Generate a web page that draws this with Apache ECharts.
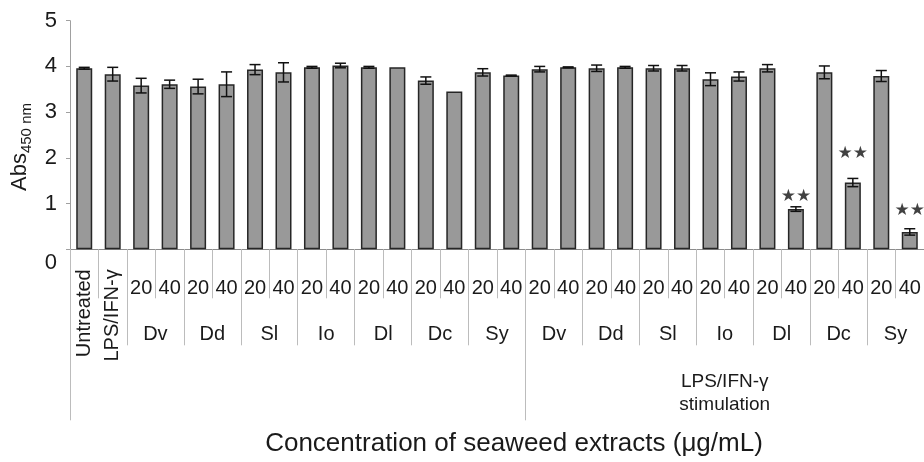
<!DOCTYPE html>
<html>
<head>
<meta charset="utf-8">
<script src="https://cdn.jsdelivr.net/npm/echarts@6/dist/echarts.min.js"></script>
<style>
  html, body { margin: 0; background: #fff; }
  #chart { width: 924px; height: 462px; }
</style>
</head>
<body>
<div id="chart"></div>
<script>
// one entry per bar
const categories = [
  'Untreated', 'LPS/IFN-γ',
  'Dv 20', 'Dv 40', 'Dd 20', 'Dd 40', 'Sl 20', 'Sl 40', 'Io 20', 'Io 40',
  'Dl 20', 'Dl 40', 'Dc 20', 'Dc 40', 'Sy 20', 'Sy 40',
  'LPS Dv 20', 'LPS Dv 40', 'LPS Dd 20', 'LPS Dd 40', 'LPS Sl 20', 'LPS Sl 40', 'LPS Io 20', 'LPS Io 40',
  'LPS Dl 20', 'LPS Dl 40', 'LPS Dc 20', 'LPS Dc 40', 'LPS Sy 20', 'LPS Sy 40',
];
const doseLabels = ['', '',
  '20', '40', '20', '40', '20', '40', '20', '40', '20', '40', '20', '40', '20', '40',
  '20', '40', '20', '40', '20', '40', '20', '40', '20', '40', '20', '40', '20', '40'];
const sideLabels = ['Untreated', 'LPS/IFN-γ'];
const means = [
  3.96, 3.83,
  3.58, 3.61, 3.56, 3.61, 3.93, 3.87, 3.98, 4.02, 3.98, 3.98, 3.69, 3.45, 3.87, 3.80,
  3.94, 3.98, 3.96, 3.98, 3.96, 3.96, 3.72, 3.78, 3.96, 0.88, 3.87, 1.46, 3.79, 0.38,
];
const errors = [
  0.02, 0.15,
  0.16, 0.09, 0.16, 0.27, 0.11, 0.21, 0.02, 0.05, 0.02, 0, 0.08, 0, 0.08, 0.01,
  0.06, 0.01, 0.07, 0.02, 0.06, 0.06, 0.14, 0.10, 0.08, 0.05, 0.14, 0.09, 0.12, 0.07,
];
// significance marks (index, height of the mark)
const sigIndex = [25, 27, 29];
const sigHeight = [1.15, 2.09, 0.85];

// groups of two bars
const groupNames = ['', 'Dv', 'Dd', 'Sl', 'Io', 'Dl', 'Dc', 'Sy', 'Dv', 'Dd', 'Sl', 'Io', 'Dl', 'Dc', 'Sy'];
const stimText = 'LPS/IFN-γ\nstimulation';
const stimGroup = 11;
const yTicks = [0, 1, 2, 3, 4, 5];

const FONT = '"Liberation Sans", Arial, sans-serif';
const TXT = '#1a1a1a';
const SEP = '#bcbcbc';

const myChart = echarts.init(document.getElementById('chart'));

const groupCats = groupNames.map((g, i) => i + ':' + g);

const option = {
  animation: false,
  grid: { left: 70, top: 20.7, width: 860, bottom: 212.7, containLabel: false },
  xAxis: [
    {
      type: 'category',
      data: categories,
      position: 'bottom',
      axisLine: { show: true, lineStyle: { color: '#8c8c8c', width: 1 } },
      axisTick: { show: true, length: 49, lineStyle: { color: SEP } },
      axisLabel: {
        interval: 0, margin: 29, fontSize: 20, color: TXT, fontFamily: FONT,
        formatter: (v, i) => doseLabels[i],
      },
      name: 'Concentration of seaweed extracts (μg/mL)',
      nameLocation: 'middle',
      nameGap: 182,
      nameTextStyle: { fontSize: 26, color: TXT, fontFamily: FONT, padding: [0, 0, 0, 34] },
    },
    {
      type: 'category',
      data: categories,
      position: 'bottom',
      axisLine: { show: false },
      axisTick: { show: false },
      axisLabel: {
        interval: 0, rotate: 90, margin: 20, fontSize: 20, color: TXT, fontFamily: FONT,
        formatter: (v, i) => sideLabels[i] || '',
      },
    },
    {
      type: 'category',
      data: groupCats,
      position: 'bottom',
      axisLine: { show: false },
      axisTick: { show: true, length: 96, interval: 0, lineStyle: { color: SEP } },
      axisLabel: {
        interval: 0, margin: 75, fontSize: 20, color: TXT, fontFamily: FONT,
        formatter: (v, i) => groupNames[i],
      },
    },
    {
      type: 'category',
      data: groupCats,
      position: 'bottom',
      axisLine: { show: false },
      axisTick: {
        show: true, length: 171, lineStyle: { color: SEP },
        interval: (i) => i === 0 || i === 8,
      },
      axisLabel: {
        interval: 0, margin: 121, fontSize: 19, lineHeight: 23, color: TXT, fontFamily: FONT,
        formatter: (v, i) => (i === stimGroup ? stimText : ''),
      },
    },
  ],
  yAxis: {
    type: 'value',
    min: yTicks[0],
    max: yTicks[yTicks.length - 1],
    interval: 1,
    name: '{a|Abs}{s|450 nm}',
    nameLocation: 'middle',
    nameRotate: 90,
    nameGap: 37,
    nameTextStyle: {
      color: TXT,
      fontFamily: FONT,
      padding: [0, 24, 0, 0],
      rich: {
        a: { fontSize: 22, fontFamily: FONT, color: TXT, lineHeight: 24, verticalAlign: 'bottom' },
        s: { fontSize: 15, fontFamily: FONT, color: TXT, lineHeight: 24, verticalAlign: 'bottom', padding: [0, 0, -3, 0] },
      },
    },
    axisLine: { show: true, lineStyle: { color: '#a0a0a0', width: 1 } },
    axisTick: { show: true, length: 4, lineStyle: { color: '#a0a0a0' } },
    splitLine: { show: false },
    axisLabel: {
      margin: 13, fontSize: 22, color: TXT, fontFamily: FONT,
      formatter: (v) => (v === 0 ? '{z|0}' : String(v)),
      rich: { z: { fontSize: 22, color: TXT, fontFamily: FONT, padding: [28, 0, 0, 0] } },
    },
  },
  series: [
    {
      type: 'bar',
      xAxisIndex: 0,
      data: means,
      barWidth: 16,
      itemStyle: { color: '#999999', borderColor: '#262626', borderWidth: 1.5 },
    },
    {
      type: 'custom',
      xAxisIndex: 0,
      data: means.map((m, i) => [i, m, errors[i]]),
      z: 5,
      renderItem: (params, api) => {
        const i = api.value(0);
        const m = api.value(1);
        const e = api.value(2);
        if (!e) return { type: 'group', children: [] };
        const top = api.coord([i, m + e]);
        const bot = api.coord([i, m - e]);
        const half = 5.5;
        const style = { stroke: '#111', lineWidth: 1.5 };
        return {
          type: 'group',
          children: [
            { type: 'line', shape: { x1: top[0], y1: top[1], x2: bot[0], y2: bot[1] }, style },
            { type: 'line', shape: { x1: top[0] - half, y1: top[1], x2: top[0] + half, y2: top[1] }, style },
            { type: 'line', shape: { x1: bot[0] - half, y1: bot[1], x2: bot[0] + half, y2: bot[1] }, style },
          ],
        };
      },
    },
    {
      type: 'scatter',
      xAxisIndex: 0,
      data: sigIndex.map((idx, k) => [idx, sigHeight[k]]),
      symbolSize: 0,
      label: {
        show: true,
        position: 'inside',
        formatter: '★★',
        fontSize: 17,
        color: '#111',
        fontFamily: '"DejaVu Sans", sans-serif',
      },
      z: 6,
    },
  ],
};

myChart.setOption(option);
</script>
</body>
</html>
